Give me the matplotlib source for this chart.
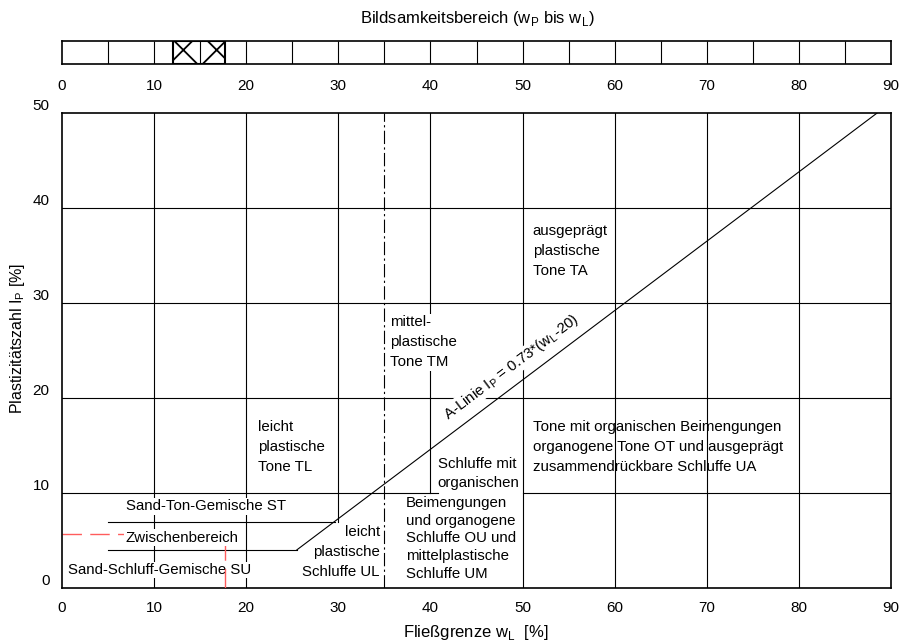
import matplotlib
matplotlib.use("Agg")
import matplotlib.pyplot as plt

plt.rcParams["font.family"] = ["Liberation Sans", "DejaVu Sans"]
plt.rcParams["mathtext.fontset"] = "custom"
plt.rcParams["mathtext.rm"] = "Liberation Sans"
plt.rcParams["hatch.linewidth"] = 1.3

# axis ticks
x_ticks = list(range(0, 100, 10))
y_ticks = list(range(0, 60, 10))
bar_cells = list(range(5, 90, 5))

# A-Linie: I_P = 0.73 * (w_L - 20)
a_slope = 0.73
a_offset = 20
a_wl = [25.5, 88.5]

# sample: plastic limit, liquid limit, plasticity index
w_p = 12.0
w_l = 17.7
i_p = 5.7

# field boundaries
v_lines = [(10, 0, 50), (20, 0, 50), (30, 7, 50), (40, 10, 50),
           (50, 0, 50), (60, 0, 50), (70, 0, 50), (80, 0, 50)]
h_lines = [(40, 0, 90), (30, 0, 90), (20, 0, 90), (10, 0, 40.8), (10, 50, 90)]
st_level = 7
su_level = 4
mix_start = 5
split_wl = 35

def a_line(wl):
    return a_slope * (wl - a_offset)

def a_line_inv(ip):
    return ip / a_slope + a_offset

fig = plt.figure(figsize=(9.17, 6.44), dpi=100)
ax = fig.add_axes([62 / 917, 56 / 644, 829 / 917, 475 / 644])
bar = fig.add_axes([62 / 917, 580 / 644, 829 / 917, 23 / 644])

lw = 0.8
for x, y0, y1 in v_lines:
    ax.plot([x, x], [y0, y1], color="black", lw=lw, zorder=2)
for y, x0, x1 in h_lines:
    ax.plot([x0, x1], [y, y], color="black", lw=lw, zorder=2)

# ST / Zwischenbereich / SU boundaries end on the A-line
ax.plot([mix_start, a_line_inv(st_level)], [st_level, st_level], color="black", lw=lw, zorder=2)
ax.plot([mix_start, a_line_inv(su_level)], [su_level, su_level], color="black", lw=lw, zorder=2)

# A-line
ax.plot(a_wl, [a_line(v) for v in a_wl], color="black", lw=lw, zorder=6)

# w_L = 35 boundary
ax.plot([split_wl, split_wl], [0, 50], color="black", lw=lw,
        linestyle=(0, (12, 3, 2, 3)), zorder=2)

# sample point guides
red = "#ff5c5c"
ax.plot([0, w_l], [i_p, i_p], color=red, lw=1.0, linestyle=(0, (14, 6)), zorder=1.5)
ax.plot([w_l, w_l], [0, i_p], color=red, lw=1.0, linestyle=(0, (14, 6)), zorder=4)

box = dict(facecolor="white", edgecolor="none", pad=1.0)
fs = 10.8

ax.text(21.3, 17.7, "leicht\nplastische\nTone TL", fontsize=fs, va="top", ha="left",
        linespacing=1.55, zorder=5)
ax.text(35.6, 28.7, "mittel-\nplastische\nTone TM", fontsize=fs, va="top", ha="left",
        linespacing=1.55, bbox=box, zorder=5)
ax.text(51.1, 38.3, "ausgeprägt\nplastische\nTone TA", fontsize=fs, va="top", ha="left",
        linespacing=1.55, zorder=5)
ax.text(51.1, 17.7, "Tone mit organischen Beimengungen\norganogene Tone OT und ausgeprägt\n"
        "zusammendrückbare Schluffe UA", fontsize=fs, va="top", ha="left",
        linespacing=1.55, zorder=5)
ax.text(40.8, 13.8, "Schluffe mit\norganischen", fontsize=fs, va="top", ha="left",
        linespacing=1.48, zorder=5)
ax.text(37.3, 9.7, "Beimengungen\nund organogene\nSchluffe OU und\nmittelplastische\nSchluffe UM",
        fontsize=fs, va="top", ha="left", linespacing=1.34, zorder=5)
ax.text(34.5, 6.6, "leicht\nplastische\nSchluffe UL", fontsize=fs, va="top", ha="right",
        linespacing=1.55, zorder=5)
ax.text(6.9, 8.6, "Sand-Ton-Gemische ST", fontsize=fs, va="center", ha="left",
        bbox=box, zorder=3)
ax.text(6.9, 5.3, "Zwischenbereich", fontsize=fs, va="center", ha="left",
        bbox=box, zorder=5)
ax.text(0.65, 1.9, "Sand-Schluff-Gemische SU", fontsize=fs, va="center", ha="left",
        bbox=box, zorder=3)

lx = 49.4
ax.text(lx, a_line(lx) + 1.05,
        r"A-Linie I$_\mathregular{P}$ = 0.73*(w$_\mathregular{L}$-20)",
        fontsize=fs, ha="center", va="bottom", rotation=37, rotation_mode="anchor",
        bbox=dict(facecolor="white", edgecolor="none", pad=0.5), zorder=5)

ax.set_xlim(0, 90)
ax.set_ylim(0, 50)
ax.set_xticks(x_ticks)
ax.set_yticks(y_ticks)
ax.tick_params(axis="both", length=0, labelsize=11)
ax.tick_params(axis="x", pad=9)
ax.tick_params(axis="y", pad=9)
for lab in ax.get_yticklabels():
    lab.set_va("bottom")
for s in ax.spines.values():
    s.set_linewidth(1.2)

# plasticity range bar
bar.set_xlim(0, 90)
bar.set_ylim(0, 1)
bar.vlines(bar_cells, 0, 1, color="black", lw=lw)
bar.axvspan(w_p, w_l, facecolor="none", edgecolor="black", hatch="x", lw=1.5)
bar.set_xticks(x_ticks)
bar.set_yticks([])
bar.tick_params(axis="x", length=0, labelsize=11, pad=11)
for s in bar.spines.values():
    s.set_linewidth(1.2)

fig.text(477 / 917, 1 - 18 / 644,
         r"Bildsamkeitsbereich (w$_\mathregular{P}$ bis w$_\mathregular{L}$)",
         fontsize=12, ha="center", va="center")
fig.text(476 / 917, 1 - 633 / 644, r"Fließgrenze w$_\mathregular{L}$  [%]",
         fontsize=12, ha="center", va="center")
fig.text(18 / 917, 1 - 338 / 644, r"Plastizitätszahl I$_\mathregular{P}$ [%]",
         fontsize=11.5, ha="center", va="center", rotation=90)

fig.savefig("out.png", dpi=100)
